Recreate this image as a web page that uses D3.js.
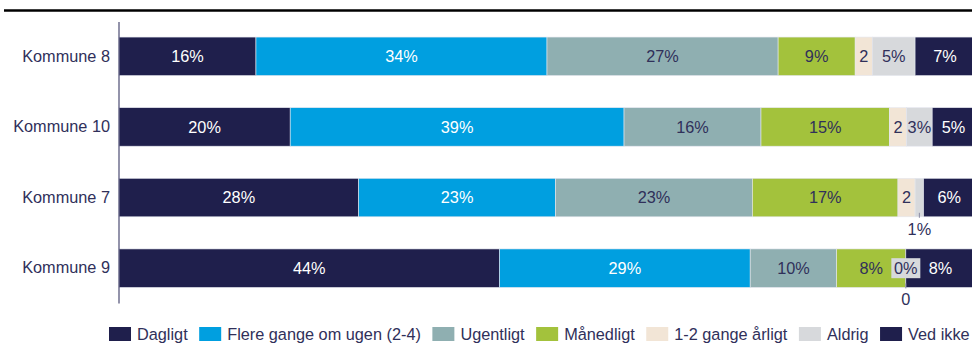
<!DOCTYPE html>
<html>
<head>
<meta charset="utf-8">
<script src="https://cdn.jsdelivr.net/npm/d3@7"></script>
<style>
  html, body { margin: 0; padding: 0; background: #fff; }
  svg { display: block; font-family: "Liberation Sans", Arial, sans-serif; }
</style>
</head>
<body>
<svg id="chart" width="972" height="345"></svg>
<script>
// Municipalities, top to bottom
const categories = ["Kommune 8", "Kommune 10", "Kommune 7", "Kommune 9"];

// Answer options (stack order, left to right)
const seriesNames = ["Dagligt", "Flere gange om ugen (2-4)", "Ugentligt", "Månedligt", "1-2 gange årligt", "Aldrig", "Ved ikke"];

// Share of respondents (%) per option, in category order
const dagligt      = [16, 20, 28, 44];
const flereGange   = [34, 39, 23, 29];
const ugentligt    = [27, 16, 23, 10];
const maanedligt   = [9, 15, 17, 8];
const aarligt      = [2, 2, 2, 0];
const aldrig       = [5, 3, 1, 0];
const vedIkke      = [7, 5, 6, 8];

const seriesValues = [dagligt, flereGange, ugentligt, maanedligt, aarligt, aldrig, vedIkke];
const colors = ["#1f1f4c", "#009fe0", "#8fafb1", "#a3c23c", "#f2e5d6", "#d7d9dc", "#1f1f4c"];
const labelColors = ["#ffffff", "#ffffff", "#30305a", "#30305a", "#30305a", "#30305a", "#ffffff"];
const textColor = "#30305a";
const fontSize = 16.3;

const rows = categories.map((c, i) => {
  const r = { category: c };
  seriesNames.forEach((s, j) => { r[s] = seriesValues[j][i]; });
  return r;
});

const svg = d3.select("#chart");

// rule across the top
svg.append("line")
  .attr("x1", 4).attr("x2", 972).attr("y1", 10.5).attr("y2", 10.5)
  .attr("stroke", "#000").attr("stroke-width", 2.5);

const x = d3.scaleLinear().domain([0, 1]).range([119, 975]);
const y = d3.scaleBand().domain(categories).range([21, 303.5])
  .paddingInner(0.455).paddingOuter(0.2275);

const stack = d3.stack().keys(seriesNames).offset(d3.stackOffsetExpand);
const layers = stack(rows);

const g = svg.append("g");
layers.forEach((layer, j) => {
  g.append("g").selectAll("rect")
    .data(layer)
    .join("rect")
    .attr("x", d => x(d[0]))
    .attr("y", d => y(d.data.category))
    .attr("width", d => Math.max(0, x(d[1]) - x(d[0])))
    .attr("height", y.bandwidth())
    .attr("fill", colors[j])
    .attr("stroke", "#e4e6ee")
    .attr("stroke-width", 0.6);
});

// segment labels
const labelG = svg.append("g").attr("font-size", fontSize).attr("text-anchor", "middle");
layers.forEach((layer, j) => {
  const key = seriesNames[j];
  layer.forEach(d => {
    const v = d.data[key];
    const cx = (x(d[0]) + x(d[1])) / 2;
    const top = y(d.data.category);
    const cy = top + y.bandwidth() / 2;
    const w = x(d[1]) - x(d[0]);
    const txt = key === "1-2 gange årligt" ? String(v) : v + "%";
    const boxed = key === "Aldrig" && v === 0;
    if (boxed) {
      // zero share drawn inside a small boxed callout
      labelG.append("rect")
        .attr("x", cx - 14.5).attr("y", cy - 10)
        .attr("width", 29).attr("height", 20)
        .attr("fill", colors[j]);
      labelG.append("text")
        .attr("x", cx).attr("y", cy).attr("dy", "0.36em")
        .attr("fill", textColor).text(txt);
    } else if (w < 12) {
      // too narrow: label below the bar with a short leader
      const bottom = top + y.bandwidth();
      labelG.append("line")
        .attr("x1", cx).attr("x2", cx)
        .attr("y1", bottom - 4).attr("y2", bottom + 1)
        .attr("stroke", "#8a8aa4").attr("stroke-width", 1);
      labelG.append("text")
        .attr("x", cx).attr("y", bottom + 12).attr("dy", "0.36em")
        .attr("fill", textColor).text(txt);
    } else {
      labelG.append("text")
        .attr("x", cx).attr("y", cy).attr("dy", "0.36em")
        .attr("fill", labelColors[j]).text(txt);
    }
  });
});

// category axis
const yAxis = svg.append("g")
  .attr("transform", "translate(119,0)")
  .call(d3.axisLeft(y).tickSize(0).tickPadding(9));
yAxis.select(".domain").remove();
yAxis.append("line")
  .attr("x1", 0).attr("x2", 0).attr("y1", 22).attr("y2", 303.5)
  .attr("stroke", "#4b4b72").attr("stroke-width", 1.2);
yAxis.selectAll(".tick text")
  .attr("font-size", fontSize)
  .attr("font-family", "Liberation Sans, Arial, sans-serif")
  .attr("fill", textColor);

// legend
const legend = svg.append("g").attr("font-size", fontSize);
let lx = 109;
seriesNames.forEach((s, j) => {
  const item = legend.append("g").attr("transform", `translate(${lx},0)`);
  item.append("rect")
    .attr("x", 0).attr("y", 327).attr("width", 22).attr("height", 14)
    .attr("fill", colors[j]);
  const t = item.append("text")
    .attr("x", 28).attr("y", 334).attr("dy", "0.36em")
    .attr("fill", textColor).text(s);
  lx += 28 + t.node().getComputedTextLength() + 11.5;
});
</script>
</body>
</html>
